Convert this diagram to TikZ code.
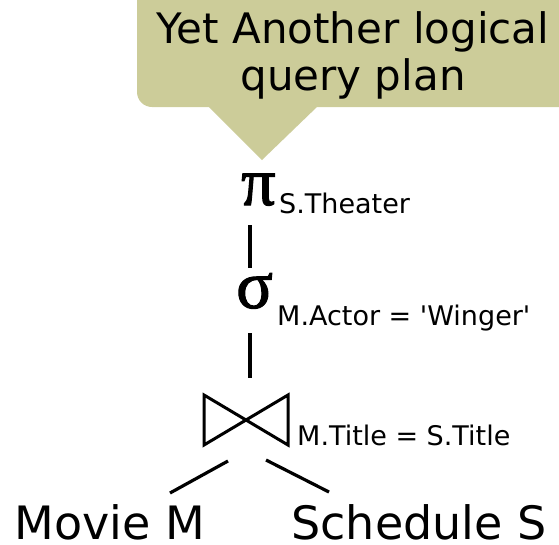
\documentclass[tikz,border=0pt]{standalone}
\usepackage{fontspec}
\setmainfont{DejaVu Sans}
\newfontfamily\greekfont[FakeBold=1.6]{Liberation Serif}
\definecolor{calloutcol}{HTML}{CCCC99}
\begin{document}
\begin{tikzpicture}[x=1pt,y=-1pt,
  title/.style={inner sep=0pt,anchor=base,font=\fontsize{42}{48}\selectfont},
  greek/.style={inner sep=0pt,anchor=base west,font=\greekfont\fontsize{68}{68}\selectfont},
  subtxt/.style={inner sep=0pt,anchor=base west,font=\fontsize{27}{30}\selectfont},
  rel/.style={inner sep=0pt,anchor=base,text depth=0pt,font=\fontsize{46}{50}\selectfont},
  edge/.style={line width=3.2pt},
  bowtie/.style={line width=3pt,line join=miter}]
\useasboundingbox (0,0) rectangle (559,544);
% callout
\fill[calloutcol,rounded corners=15pt] (137,-20) rectangle (575,107);
\fill[calloutcol] (208,106) -- (262,160) -- (318,106) -- cycle;
\node[title] (t1) at (353,43) {Yet Another logical};
\node[title] (t2) at (353,90) {query plan};
% projection
\node[greek] (pi) at (241,205) {π};
\node[subtxt] (pisub) at (279,213) {S.Theater};
% selection
\node[greek] (sigma) at (236,308) {σ};
\node[subtxt] (sigsub) at (277,325) {M.Actor = \textquotesingle Winger\textquotesingle};
% join
\draw[bowtie] (204,395) coordinate (bj1) -- (288,445) coordinate (bj2) -- (288,395) coordinate (bj3) -- (204,445) coordinate (bj4) -- cycle;
\node[subtxt] (joinsub) at (297,445) {M.Title = S.Title};
% relations
\node[rel] (movie) at (110,539) {Movie M};
\node[rel] (sched) at (419,539) {Schedule S};
% edges
\coordinate (e1a) at (250,225);
\coordinate (e1b) at (250,268);
\coordinate (e2a) at (250,333);
\coordinate (e2b) at (250,378);
\coordinate (e3a) at (228,461);
\coordinate (e3b) at (170,493);
\coordinate (e4a) at (266,460);
\coordinate (e4b) at (329,492);
\draw[edge] (e1a) -- (e1b);
\draw[edge] (e2a) -- (e2b);
\draw[edge] (e3a) -- (e3b);
\draw[edge] (e4a) -- (e4b);
\end{tikzpicture}
\end{document}
